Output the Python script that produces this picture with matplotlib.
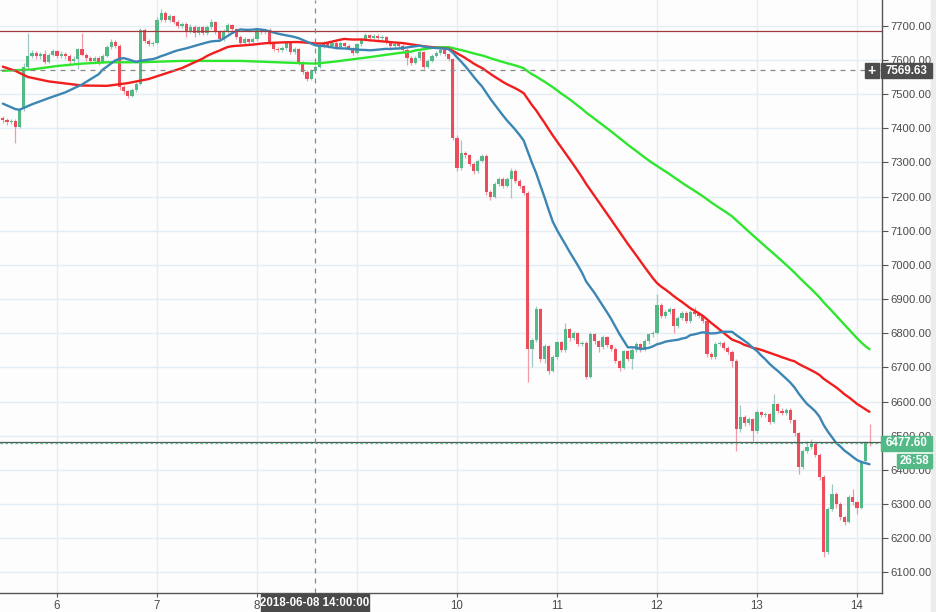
import numpy as np
import pandas as pd
import matplotlib
matplotlib.use("Agg")
import matplotlib.pyplot as plt
from matplotlib.patches import Rectangle

# ---------------- data (hourly candles, hours from 2018-06-06 00:00) ----------------
hours = np.arange(-13, 196)
first_open = 7430.0
closes = [
    7425, 7418, 7422, 7405, 7455, 7578, 7612, 7620, 7610, 7618,
    7595, 7615, 7625, 7612, 7618, 7612, 7596, 7602, 7632, 7615,
    7605, 7596, 7605, 7594, 7612, 7638, 7652, 7640, 7520, 7508,
    7495, 7512, 7530, 7687, 7655, 7645, 7650, 7718, 7737, 7717,
    7727, 7710, 7700, 7705, 7685, 7697, 7680, 7695, 7678, 7695,
    7710, 7682, 7660, 7685, 7702, 7690, 7668, 7650, 7660, 7652,
    7660, 7687, 7682, 7688, 7650, 7632, 7628, 7635, 7650, 7622,
    7632, 7592, 7565, 7545, 7568, 7580, 7640, 7648, 7642, 7650,
    7638, 7648, 7642, 7633, 7620, 7645, 7658, 7672, 7665, 7670,
    7663, 7666, 7652, 7640, 7646, 7642, 7630, 7606, 7592, 7605,
    7622, 7580, 7598, 7612, 7620, 7628, 7616, 7602, 7372, 7284,
    7328, 7322, 7295, 7275, 7305, 7320, 7212, 7200, 7238, 7252,
    7232, 7250, 7275, 7245, 7230, 7211, 6753, 6780, 6870, 6724,
    6762, 6690, 6730, 6773, 6750, 6812, 6785, 6800, 6770, 6772,
    6672, 6798, 6776, 6760, 6788, 6765, 6755, 6718, 6698, 6747,
    6725, 6752, 6768, 6752, 6776, 6797, 6802, 6884, 6850, 6862,
    6870, 6822, 6845, 6860, 6835, 6862, 6855, 6850, 6835, 6738,
    6730, 6768, 6772, 6758, 6745, 6720, 6519, 6554, 6538, 6548,
    6514, 6569, 6560, 6564, 6540, 6592, 6574, 6568, 6575, 6545,
    6508, 6410, 6455, 6468, 6476, 6445, 6380, 6160, 6286, 6330,
    6300, 6262, 6248, 6320, 6305, 6290, 6425, 6480, 6477.6,
]
highs = [
    7436, 7430, 7428, 7426, 7460, 7590, 7678, 7628, 7626, 7624,
    7630, 7620, 7632, 7630, 7625, 7624, 7616, 7610, 7636, 7678,
    7620, 7610, 7612, 7610, 7618, 7644, 7660, 7658, 7645, 7526,
    7512, 7518, 7536, 7694, 7692, 7660, 7656, 7724, 7749, 7742,
    7734, 7732, 7716, 7712, 7710, 7704, 7702, 7700, 7700, 7702,
    7720, 7714, 7686, 7690, 7708, 7706, 7694, 7672, 7666, 7664,
    7666, 7694, 7692, 7694, 7692, 7654, 7638, 7640, 7656, 7654,
    7638, 7636, 7596, 7570, 7574, 7586, 7646, 7655, 7654, 7656,
    7655, 7654, 7653, 7647, 7637, 7650, 7664, 7678, 7677, 7676,
    7675, 7672, 7670, 7656, 7652, 7651, 7646, 7634, 7610, 7610,
    7628, 7626, 7604, 7618, 7626, 7634, 7632, 7620, 7606, 7380,
    7366, 7334, 7326, 7300, 7310, 7326, 7324, 7218, 7244, 7258,
    7256, 7256, 7285, 7280, 7250, 7234, 7215, 6786, 6880, 6874,
    6768, 6766, 6736, 6778, 6778, 6830, 6816, 6806, 6804, 6778,
    6776, 6804, 6802, 6780, 6794, 6792, 6770, 6760, 6722, 6752,
    6750, 6756, 6774, 6772, 6782, 6802, 6808, 6914, 6888, 6868,
    6876, 6874, 6850, 6866, 6864, 6868, 6878, 6860, 6854, 6840,
    6744, 6774, 6778, 6776, 6762, 6750, 6724, 6590, 6560, 6556,
    6552, 6575, 6574, 6570, 6568, 6622, 6596, 6580, 6582, 6580,
    6550, 6512, 6462, 6485, 6490, 6480, 6450, 6385, 6292, 6360,
    6335, 6306, 6266, 6326, 6345, 6310, 6430, 6486, 6534,
]
lows = [
    7415, 7410, 7412, 7357, 7400, 7450, 7570, 7605, 7602, 7604,
    7588, 7590, 7610, 7606, 7605, 7604, 7588, 7590, 7572, 7610,
    7598, 7590, 7592, 7586, 7590, 7608, 7632, 7634, 7512, 7500,
    7488, 7490, 7506, 7526, 7648, 7640, 7640, 7645, 7712, 7710,
    7712, 7704, 7694, 7694, 7667, 7680, 7668, 7674, 7672, 7674,
    7690, 7676, 7654, 7656, 7680, 7684, 7662, 7644, 7644, 7646,
    7648, 7656, 7676, 7676, 7644, 7626, 7622, 7622, 7630, 7616,
    7618, 7586, 7558, 7538, 7540, 7562, 7575, 7635, 7636, 7637,
    7632, 7633, 7636, 7628, 7614, 7616, 7640, 7654, 7660, 7660,
    7657, 7658, 7646, 7634, 7635, 7636, 7624, 7585, 7586, 7588,
    7600, 7574, 7576, 7594, 7608, 7615, 7610, 7596, 7365, 7276,
    7278, 7314, 7288, 7265, 7270, 7300, 7205, 7190, 7196, 7232,
    7226, 7228, 7195, 7240, 7224, 7205, 6657, 6700, 6774, 6716,
    6712, 6680, 6686, 6724, 6744, 6746, 6778, 6780, 6764, 6762,
    6665, 6668, 6770, 6745, 6755, 6760, 6748, 6712, 6690, 6694,
    6720, 6695, 6746, 6746, 6748, 6770, 6790, 6798, 6844, 6845,
    6856, 6800, 6816, 6840, 6830, 6830, 6850, 6844, 6830, 6732,
    6724, 6726, 6762, 6752, 6740, 6700, 6455, 6512, 6530, 6532,
    6485, 6508, 6554, 6554, 6534, 6536, 6568, 6562, 6562, 6538,
    6500, 6388, 6404, 6450, 6462, 6438, 6372, 6145, 6155, 6280,
    6290, 6255, 6238, 6244, 6298, 6270, 6285, 6420, 6470,
]

blue_warm_h = [-13, -10, -9, -6, -2, 2, 6, 10]
blue_warm_v = [7472, 7456, 7454, 7470, 7488, 7505, 7528, 7558]
red_warm_h = [-13, -10, -7, -2, 6, 12, 17, 22, 30, 35]
red_warm_v = [7580, 7568, 7550, 7537, 7525, 7524, 7532, 7544, 7576, 7604]
green_warm_h = [-13, -6, 0, 6, 12, 20, 30, 44, 55, 62, 66, 75, 82, 85]
green_warm_v = [7568, 7572, 7582, 7589, 7593, 7593, 7597, 7597, 7592, 7589, 7594, 7608, 7620, 7624]
ma_periods = {"blue": 25, "red": 50, "green": 100}

day_ticks = [0, 24, 48, 96, 120, 144, 168, 192]
day_labels = ["6", "7", "8", "10", "11", "12", "13", "14"]
grid_day_ticks = [0, 24, 48, 72, 96, 120, 144, 168, 192]
price_ticks = list(range(6100, 7701, 100))

cross_hour = 62
cross_price = 7569.63
cross_label = "2018-06-08 14:00:00"
last_price = 6477.60
timer_label = "26:58"
hline_red = 7683.6
hline_gray = 6483.0

# ---------------- styling ----------------
UP = "#53b987"
DOWN = "#eb4d5c"
UP_WICK = "#9ec8c8"
DOWN_WICK = "#f29aa6"
BG = "#fdfdfd"
GRID = "#e3edf3"
FONT = ["Liberation Sans", "DejaVu Sans"]
plt.rcParams["font.family"] = FONT

W, H = 936, 612
fig = plt.figure(figsize=(W / 100, H / 100), dpi=100, facecolor=BG)
ax = fig.add_axes([0, 19 / H, 882 / W, 593 / H])
ax.set_facecolor(BG)

closes_a = np.array(closes, dtype=float)
opens_a = np.concatenate([[first_open], closes_a[:-1]])
highs_a = np.array(highs, dtype=float)
lows_a = np.array(lows, dtype=float)
up = closes_a >= opens_a

# grid lines (vertical at every day, including the one whose label is hidden)
for g in grid_day_ticks:
    ax.axvline(g, color=GRID, lw=1.0, zorder=0.5)
for p in price_ticks:
    ax.axhline(p, color=GRID, lw=1.0, zorder=0.5)

# wicks
ax.vlines(hours[up], lows_a[up], highs_a[up], color=UP_WICK, lw=0.9, zorder=2)
ax.vlines(hours[~up], lows_a[~up], highs_a[~up], color=DOWN_WICK, lw=0.9, zorder=2)
# bodies
bottoms = np.minimum(opens_a, closes_a)
heights = np.maximum(np.abs(closes_a - opens_a), 2.0)
ax.bar(hours, heights, bottom=bottoms, width=0.74,
       color=np.where(up, UP, DOWN), linewidth=0, zorder=2.5)

# moving averages
s = pd.Series(closes_a, index=hours)
def ma_line(period, warm_h, warm_v):
    r = s.rolling(period).mean().dropna()
    xs = np.concatenate([warm_h, r.index.values])
    ys = np.concatenate([warm_v, r.values])
    return xs, ys

for key, col, wh, wv in [("green", "#2ee62e", green_warm_h, green_warm_v),
                         ("red", "#f21d1d", red_warm_h, red_warm_v),
                         ("blue", "#3c86b4", blue_warm_h, blue_warm_v)]:
    xs, ys = ma_line(ma_periods[key], wh, wv)
    ax.plot(xs, ys, color=col, lw=1.7, zorder=3, solid_capstyle="round")

# horizontal lines
ax.axhline(hline_red, color="#a33a3a", lw=0.9, zorder=4)
ax.axhline(hline_gray, color="#555555", lw=0.9, zorder=4)
ax.axhline(last_price, color=UP, lw=0.9, ls=(0, (2, 2)), zorder=4)
# crosshair
ax.axhline(cross_price, color="#888888", lw=0.9, ls=(0, (4, 4)), zorder=4)
ax.axvline(cross_hour, color="#888888", lw=0.9, ls=(0, (4, 4)), zorder=4)

# axes limits / ticks
ax.set_xlim(-13.68, 198.0)
ax.set_ylim(6040, 7775.2)
ax.set_xticks(day_ticks)
ax.set_xticklabels(day_labels)
ax.set_yticks(price_ticks)
ax.set_yticklabels([f"{v:.2f}" for v in price_ticks])
ax.yaxis.tick_right()
for side in ["top", "left"]:
    ax.spines[side].set_visible(False)
for side in ["right", "bottom"]:
    ax.spines[side].set_color("#555555")
    ax.spines[side].set_linewidth(1.0)
ax.tick_params(axis="y", direction="out", length=4, width=0.8, color="#555555",
               labelcolor="#4a4a4a", labelsize=8.1, pad=2)
ax.tick_params(axis="x", direction="out", length=3, width=0.8, color="#555555",
               labelcolor="#4a4a4a", labelsize=8.3, pad=2)

# right scrollbar-ish strip
fig.add_artist(Rectangle((931 / W, 0), 5 / W, 1, transform=fig.transFigure,
                         color="#ececec", zorder=1))

def fbox(x0, y0, x1, y1, color, text, tcolor="white", bold=True, size=8.3):
    fig.add_artist(Rectangle((x0 / W, 1 - y1 / H), (x1 - x0) / W, (y1 - y0) / H,
                             transform=fig.transFigure, color=color, zorder=10))
    fig.text(((x0 + x1) / 2) / W, 1 - ((y0 + y1) / 2) / H, text, color=tcolor,
             fontsize=size, fontweight="bold" if bold else "normal",
             ha="center", va="center", zorder=11, family=FONT)

# crosshair labels
fbox(261, 594, 369, 612, "#4a4a4a", cross_label)
fbox(865, 63, 879, 78, "#4d4d4d", "+", size=10)
fbox(881, 63, 932, 78, "#4d4d4d", f"{cross_price:.2f}")
# last price labels
fbox(881, 436, 932, 451, UP, f"{last_price:.2f}")
fbox(897, 454, 932, 468, UP, timer_label)

fig.savefig("out.png", dpi=100, facecolor=BG)
